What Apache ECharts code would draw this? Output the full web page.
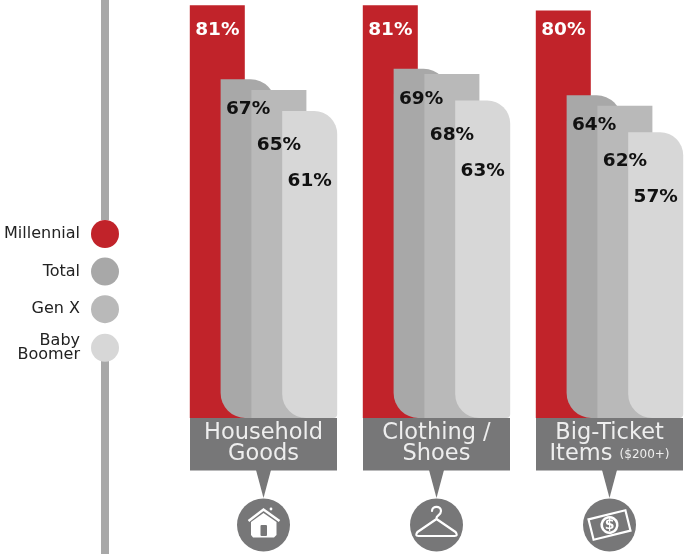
<!DOCTYPE html>
<html><head><meta charset="utf-8">
<style>html,body{margin:0;padding:0;background:#fff}#c{width:686px;height:554px}</style>
<script src="https://cdn.jsdelivr.net/npm/echarts@6/dist/echarts.min.js"></script>
</head><body><div id="c"></div>
<script>
const categories = ['Household\nGoods', 'Clothing /\nShoes', 'Big-Ticket\nItems ($200+)'];
const icons = ['house', 'hanger', 'money'];
const millennial = [81, 81, 80];
const total = [67, 69, 64];
const genX = [65, 68, 62];
const babyBoomer = [61, 63, 57];
const seriesNames = ['Millennial', 'Total', 'Gen X', 'Baby\nBoomer'];
const colors = ['#c1232a', '#a8a8a8', '#b9b9b9', '#d7d7d7'];
const radii = [0, [0, 25, 0, 25], 0, [0, 23, 4, 24]];

const AX_MIN = 3, AX_MAX = 82, GRID_H = 418;
const FONT = '"DejaVu Sans", sans-serif';
const GREY = '#777778';
const px = v => GRID_H * (AX_MAX - v) / (AX_MAX - AX_MIN);

function labelDy(seriesIdx, i, v) {
  const target = seriesIdx === 0 ? 30 : px(total[i]) + 30 + 36 * (seriesIdx - 1);
  return target - px(v);
}
function barSeries(idx, values) {
  return {
    type: 'bar', name: seriesNames[idx], barWidth: 55, barGap: '-44%',
    itemStyle: { color: colors[idx], borderRadius: radii[idx] },
    z: 2,
    data: values.map((v, i) => ({
      value: v,
      label: {
        show: true, formatter: '{c}%', position: [27.5, labelDy(idx, i, v)],
        align: 'center', verticalAlign: 'middle',
        color: idx === 0 ? '#fff' : '#111',
        fontFamily: FONT, fontWeight: 'bold', fontSize: 18.5
      }
    }))
  };
}
function iconEls(kind, cx, cy) {
  const W = '#fff';
  if (kind === 'house') return [
    { type: 'polygon', shape: { points: [[cx-12.5,cy-3],[cx,cy-12],[cx+13,cy-3],[cx+13,cy+10],[cx+10.5,cy+12.5],[cx-10.5,cy+12.5],[cx-12.5,cy+10]] }, style: { fill: W } },
    { type: 'polyline', shape: { points: [[cx-15,cy-4],[cx,cy-15.5],[cx+16,cy-4]] }, style: { stroke: W, lineWidth: 2.4, fill: null } },
    { type: 'circle', shape: { cx: cx+7.5, cy: cy-16, r: 1.4 }, style: { fill: W } },
    { type: 'rect', shape: { x: cx-3, y: cy, width: 6.5, height: 11, r: 1 }, style: { fill: GREY } }
  ];
  if (kind === 'hanger') return [
    { type: 'path', shape: { pathData: `M${cx},${cy-6} L${cx},${cy-7} C${cx},${cy-9.5} ${cx+4.5},${cy-10} ${cx+4.5},${cy-14} C${cx+4.5},${cy-19.5} ${cx-4.5},${cy-19.5} ${cx-4.5},${cy-14}
      M${cx},${cy-6} L${cx+19},${cy+7} Q${cx+22},${cy+11} ${cx+18},${cy+11} L${cx-18},${cy+11} Q${cx-22},${cy+11} ${cx-19},${cy+7} Z` },
      style: { stroke: W, lineWidth: 2.2, fill: null, lineCap: 'round', lineJoin: 'round' } }
  ];
  return [{
    type: 'group', x: cx, y: cy, rotation: 14 * Math.PI / 180,
    children: [
      { type: 'rect', shape: { x: -19, y: -10.5, width: 38, height: 21 }, style: { stroke: W, lineWidth: 2.2, fill: null } },
      { type: 'circle', shape: { cx: 0, cy: 0, r: 7.8 }, style: { fill: GREY, stroke: W, lineWidth: 2.5 } },
      { type: 'text', rotation: -14 * Math.PI / 180, style: { x: 0, y: 0, text: '$', fill: W, align: 'center', verticalAlign: 'middle', font: 'bold 14px ' + FONT } }
    ]
  }];
}
function renderBadge(params, api) {
  const i = api.value(0);
  const p = api.coord([i, AX_MIN]);
  const cx = p[0], y0 = p[1];
  const name = categories[i];
  const m = name.match(/^([\s\S]*?)\s(\(.*\))$/);
  const text = (m ? m[1] + ' {s|' + m[2] + '}' : name);
  return {
    type: 'group',
    children: [
      { type: 'rect', shape: { x: cx - 73.5, y: y0, width: 147, height: 52.5 }, style: { fill: GREY } },
      { type: 'polygon', shape: { points: [[cx-7.5,y0+52],[cx+7.5,y0+52],[cx,y0+80]] }, style: { fill: GREY } },
      { type: 'circle', shape: { cx: cx, cy: y0+107, r: 26.5 }, style: { fill: GREY } },
      { type: 'text', style: {
          x: cx, y: y0+26, text: text, fill: '#eeeeee', align: 'center', verticalAlign: 'middle',
          font: '22.5px ' + FONT, lineHeight: 21,
          rich: { s: { fontSize: 12, fontFamily: FONT, fill: '#eeeeee', lineHeight: 21 } }
      } }
    ].concat(iconEls(icons[i], cx, y0 + 107))
  };
}
const chart = echarts.init(document.getElementById('c'));
chart.setOption({
  animation: false,
  backgroundColor: '#fff',
  grid: { left: 177, top: 0, width: 519, height: GRID_H, outerBoundsMode: 'none' },
  xAxis: { type: 'category', data: categories, show: false },
  yAxis: { type: 'value', min: AX_MIN, max: AX_MAX, show: false },
  legend: {
    orient: 'vertical', align: 'right', right: 567, top: 220, padding: 0,
    itemWidth: 28, itemHeight: 28, itemGap: 9.6, icon: 'circle',
    selectedMode: false,
    data: seriesNames,
    textStyle: { fontFamily: FONT, fontSize: 16, color: '#222', lineHeight: 14, padding: [0, 6, 0, 0] }
  },
  graphic: [
    { type: 'rect', shape: { x: 101, y: 0, width: 8, height: 220 }, style: { fill: '#a8a8a8' }, z: 0 },
    { type: 'rect', shape: { x: 101, y: 361, width: 8, height: 193 }, style: { fill: '#a8a8a8' }, z: 0 }
  ],
  color: colors,
  series: [
    barSeries(0, millennial), barSeries(1, total), barSeries(2, genX), barSeries(3, babyBoomer),
    { type: 'custom', renderItem: renderBadge, clip: false, silent: true, z: 10,
      data: categories.map((c, i) => [i, AX_MIN]), encode: { x: 0, y: 1 } }
  ]
});
</script></body></html>
